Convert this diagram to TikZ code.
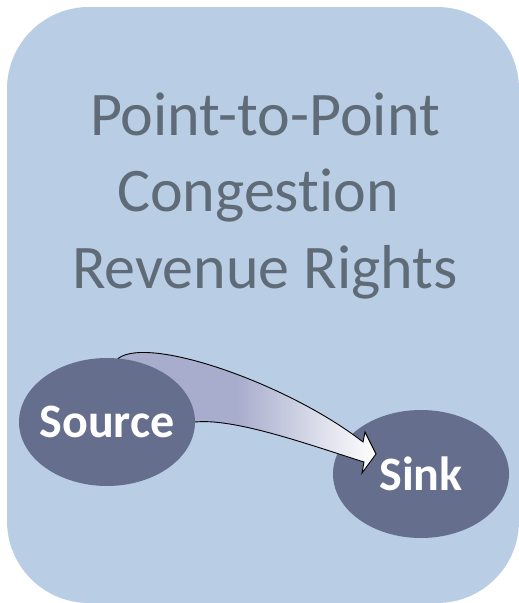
\documentclass[tikz,border=0pt]{standalone}
\usepackage{fontspec}
\setmainfont[Ligatures=NoCommon]{Carlito}
\usetikzlibrary{shapes.geometric}
\definecolor{panelblue}{RGB}{185,205,229}
\definecolor{titlegray}{RGB}{95,107,118}
\definecolor{nodeslate}{RGB}{101,111,141}
\definecolor{arrowlilac}{RGB}{168,173,205}

\pgfdeclarelayer{back}
\pgfsetlayers{back,main}

% lilac over the tail, fading to white at the tip
\pgfdeclarehorizontalshading{arrowfade}{100bp}{color(0bp)=(arrowlilac); color(48bp)=(arrowlilac); color(75bp)=(white); color(100bp)=(white)}

\tikzset{
  endpoint/.style={ellipse, fill=nodeslate, text=white,
    font=\fontsize{48}{48}\selectfont\bfseries,
    minimum width=176pt, minimum height=128pt, inner sep=-6pt},
}

\begin{document}
\begin{tikzpicture}[x=1pt,y=-1pt]
    \useasboundingbox (0,0) rectangle (519,603);
    \node[font=\fontsize{62}{76.5}\selectfont, text=titlegray, align=center, anchor=base] (title) at (265,288)
        {Point-to-Point\\Congestion\kern0.23em\\Revenue Rights};
    \node[endpoint] (source) at (107,422) {Source};
    \begin{pgfonlayer}{back}
    \fill[panelblue, rounded corners=82pt] (7,7) rectangle (519,603);
    \node[endpoint] (sink) at (421,474) {Sink};
    \shade[shading=arrowfade, draw=black, line width=0.9pt]
        (source.80) .. controls (150,335) and (290,385) .. (363,442)
        -- (365,432) -- (376,454) -- (362,473) -- (364,462)
        .. controls (310,445) and (235,418) .. (source.east) -- cycle;
    \end{pgfonlayer}
\end{tikzpicture}
\end{document}
